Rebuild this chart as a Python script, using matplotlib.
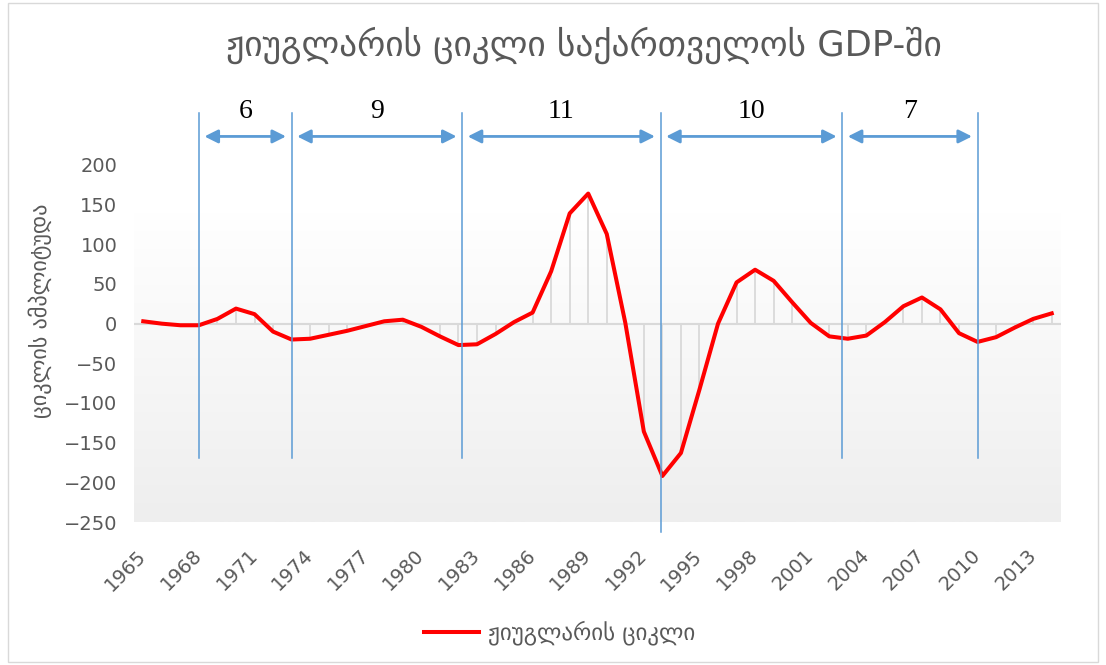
import numpy as np
import matplotlib

matplotlib.use("Agg")
import matplotlib.pyplot as plt
from matplotlib.colors import LinearSegmentedColormap
from matplotlib.patches import Rectangle

# values
years = list(range(1965, 2015))
cycle = [3, 0, -2, -2, 6, 19, 12, -10, -20, -19,
         -14, -9, -3, 3, 5, -4, -16, -27, -26, -13,
         2, 14, 66, 139, 164, 113, 1, -136, -192, -163,
         -83, 0, 52, 68, 54, 27, 1, -16, -19, -15,
         2, 22, 33, 18, -12, -23, -17, -5, 6, 13]

# hand-drawn cycle markers (year positions) and cycle lengths
bounds = [1968, 1973, 1982.2, 1992.9, 2002.7, 2010]
lengths = [6, 9, 11, 10, 7]

title = "ჟიუგლარის ციკლი საქართველოს GDP-ში"
ylabel = "ციკლის ამპლიტუდა"
series_name = "ჟიუგლარის ციკლი"

GRAY = "#595959"
BLUE = "#5B9BD5"
FONT = ["DejaVu Sans"]

W, H, DPI = 1106, 665, 100
fig = plt.figure(figsize=(W / DPI, H / DPI), dpi=DPI)
ax = fig.add_axes([134 / W, (H - 522) / H, 927 / W, 357 / H])

x0, x1 = years[0] - 0.5, years[-1] + 0.5
ax.set_xlim(x0, x1)

# plot area gradient fill
bg = LinearSegmentedColormap.from_list("bg", ["#ffffff", "#eeeeee"])
ax.imshow(np.linspace(0, 1, 256)[:, None], extent=[x0, x1, -250, 140],
          aspect="auto", cmap=bg, origin="upper", zorder=0)
ax.set_ylim(-250, 200)

ax.axhline(0, color="#d9d9d9", lw=1.5, zorder=1)
ax.vlines(years, 0, cycle, color="#d9d9d9", lw=1.3, zorder=1)
ax.plot(years, cycle, color="#ff0000", lw=2.9, zorder=3,
        solid_joinstyle="round", label=series_name)

# cycle boundary lines and arrows
for i, b in enumerate(bounds):
    lo = -262 if i == 3 else -169
    ax.plot([b, b], [lo, 265], color=BLUE, lw=1.1, clip_on=False, zorder=4)
for a, b, n in zip(bounds[:-1], bounds[1:], lengths):
    ax.annotate("", xy=(b - 0.3, 236), xytext=(a + 0.3, 236),
                annotation_clip=False,
                arrowprops=dict(arrowstyle="<|-|>", color=BLUE, lw=2,
                                mutation_scale=20, shrinkA=0, shrinkB=0))
    ax.text((a + b) / 2, 268, str(n), ha="center", va="center",
            fontsize=20, family="Liberation Serif", color="black")

for s in ax.spines.values():
    s.set_visible(False)
ax.set_yticks(range(-250, 201, 50))
ax.set_xticks(years[::3])
ax.tick_params(length=0, colors=GRAY, labelsize=14)
ax.set_xticklabels([str(y) for y in years[::3]], rotation=45, ha="right",
                   rotation_mode="anchor", va="center", family=FONT)
ax.tick_params(axis="x", pad=22)
ax.tick_params(axis="y", pad=12)

fig.text(584 / W, 1 - 45 / H, title, ha="center", va="center",
         fontsize=25.5, color=GRAY, family=FONT)
fig.text(40 / W, 1 - 311 / H, ylabel, rotation=90, ha="center", va="center",
         fontsize=16, color=GRAY, family=FONT)

ax.legend(loc="center", bbox_to_anchor=(560 / W, 1 - 633 / H),
          bbox_transform=fig.transFigure, frameon=False,
          handlelength=2.4, handletextpad=0.4, labelcolor=GRAY,
          prop={"family": FONT, "size": 16.5})

fig.patches.append(Rectangle((8 / W, 3 / H), 1 - 16 / W, 1 - 6 / H,
                             transform=fig.transFigure, fill=False,
                             edgecolor="#d9d9d9", lw=1))

fig.savefig("out.png", dpi=DPI, facecolor="white")
